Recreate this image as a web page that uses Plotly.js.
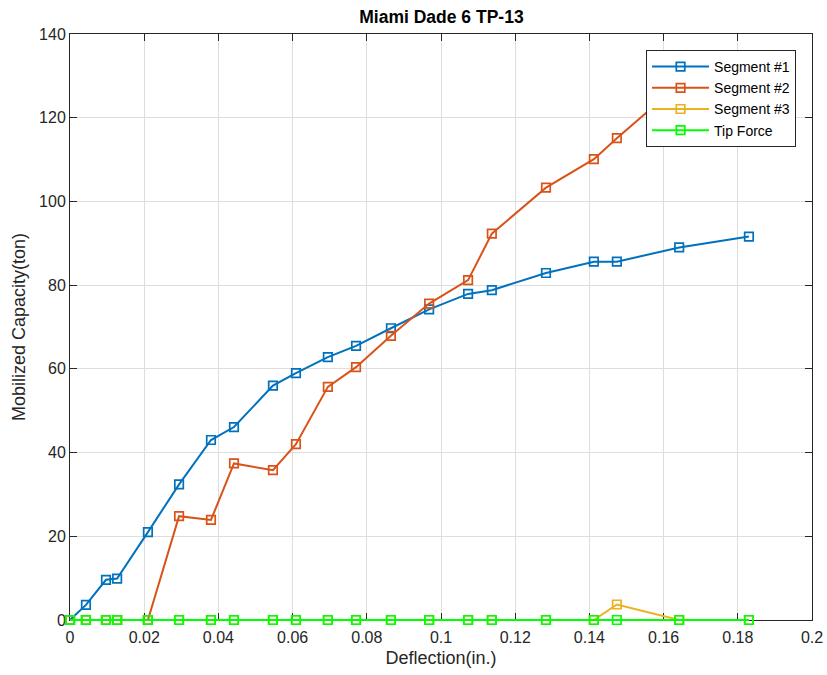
<!DOCTYPE html>
<html>
<head>
<meta charset="utf-8">
<script src="https://cdn.plot.ly/plotly-3.0.1.min.js"></script>
<style>html,body{margin:0;padding:0;background:#fff;}#chart{width:827px;height:675px;}</style>
</head>
<body>
<div id="chart"></div>
<script>
// Deflection (in.)
const deflection = [0, 0.0043, 0.0097, 0.0127, 0.0210, 0.0294, 0.0380, 0.0442, 0.0547, 0.0609, 0.0695, 0.0771, 0.0865, 0.0968, 0.1073, 0.1137, 0.1283, 0.1412, 0.1474, 0.1642, 0.1830];
// Mobilized capacity (ton)
const segment1 = [0, 3.6, 9.6, 9.9, 21.0, 32.4, 43.0, 46.1, 56.0, 59.0, 62.8, 65.5, 69.7, 74.2, 77.9, 78.8, 82.9, 85.6, 85.6, 89.0, 91.6];
const segment2 = [0, 0, 0, 0, 0, 24.8, 23.9, 37.4, 35.8, 42.0, 55.7, 60.4, 67.9, 75.6, 81.2, 92.3, 103.3, 110.1, 115.1, 128.0, 131.0];
const segment3 = [0, 0, 0, 0, 0, 0, 0, 0, 0, 0, 0, 0, 0, 0, 0, 0, 0, 0, 3.7, 0, 0];
const tipForce = [0, 0, 0, 0, 0, 0, 0, 0, 0, 0, 0, 0, 0, 0, 0, 0, 0, 0, 0, 0, 0];

const seriesNames = ['Segment #1', 'Segment #2', 'Segment #3', 'Tip Force'];
const seriesColors = ['#0072BD', '#D95319', '#EDB120', '#00FF00'];
const seriesValues = [segment1, segment2, segment3, tipForce];

const xTickVals = [0, 0.02, 0.04, 0.06, 0.08, 0.1, 0.12, 0.14, 0.16, 0.18, 0.2];
const xTickText = ['0', '0.02', '0.04', '0.06', '0.08', '0.1', '0.12', '0.14', '0.16', '0.18', '0.2'];
const yTickVals = [0, 20, 40, 60, 80, 100, 120, 140];
const yTickText = ['0', '20', '40', '60', '80', '100', '120', '140'];

const FONT = 'Liberation Sans, Arial, Helvetica, sans-serif';
const AX = '#262626';

const traces = seriesValues.map((vals, i) => ({
  x: deflection,
  y: vals,
  name: seriesNames[i],
  type: 'scatter',
  mode: 'lines+markers',
  line: {color: seriesColors[i], width: 2},
  marker: {symbol: 'square-open', size: 8.5, color: seriesColors[i], line: {width: 1.7, color: seriesColors[i]}},
  cliponaxis: false
}));

const axisCommon = {
  showline: true, linecolor: AX, linewidth: 1, mirror: 'ticks',
  ticks: 'inside', ticklen: 7, tickcolor: AX, tickwidth: 1,
  showgrid: true, gridcolor: '#dedede', gridwidth: 1,
  zeroline: false, tickfont: {family: FONT, size: 16, color: AX},
  tickmode: 'array', layer: 'below traces'
};

const layout = {
  width: 827, height: 675,
  margin: {l: 70, r: 15, t: 34, b: 55},
  paper_bgcolor: '#fff', plot_bgcolor: '#fff',
  font: {family: FONT, color: AX},
  title: {text: '<b>Miami Dade 6 TP-13</b>', font: {family: FONT, size: 17.5, color: '#000'}, x: 0.5338, xanchor: 'center', y: 0.9745, yanchor: 'middle'},
  xaxis: Object.assign({}, axisCommon, {
    range: [0, 0.2], tickvals: xTickVals, ticktext: xTickText, ticklabelstandoff: 3,
    title: {text: 'Deflection(in.)', font: {family: FONT, size: 18, color: AX}, standoff: 6}
  }),
  yaxis: Object.assign({}, axisCommon, {
    range: [0, 140], tickvals: yTickVals, ticktext: yTickText,
    title: {text: 'Mobilized Capacity(ton)', font: {family: FONT, size: 18, color: AX}, standoff: 8}
  }),
  legend: {
    x: 0.9785, xanchor: 'right', y: 0.9727, yanchor: 'top',
    bgcolor: '#fff', bordercolor: AX, borderwidth: 1,
    font: {family: FONT, size: 14, color: '#000'},
    tracegroupgap: 0, itemwidth: 57
  },
  showlegend: true
};

Plotly.newPlot('chart', traces, layout, {displayModeBar: false, staticPlot: true}).then(gd => {
  // let lines lying on the y=0 axis show at full width, as in the reference
  gd.querySelectorAll('.cartesianlayer g.plot, .cartesianlayer .scatterlayer, .cartesianlayer .scatterlayer *').forEach(el => {
    if (el.hasAttribute('clip-path')) el.removeAttribute('clip-path');
  });
});
</script>
</body>
</html>
